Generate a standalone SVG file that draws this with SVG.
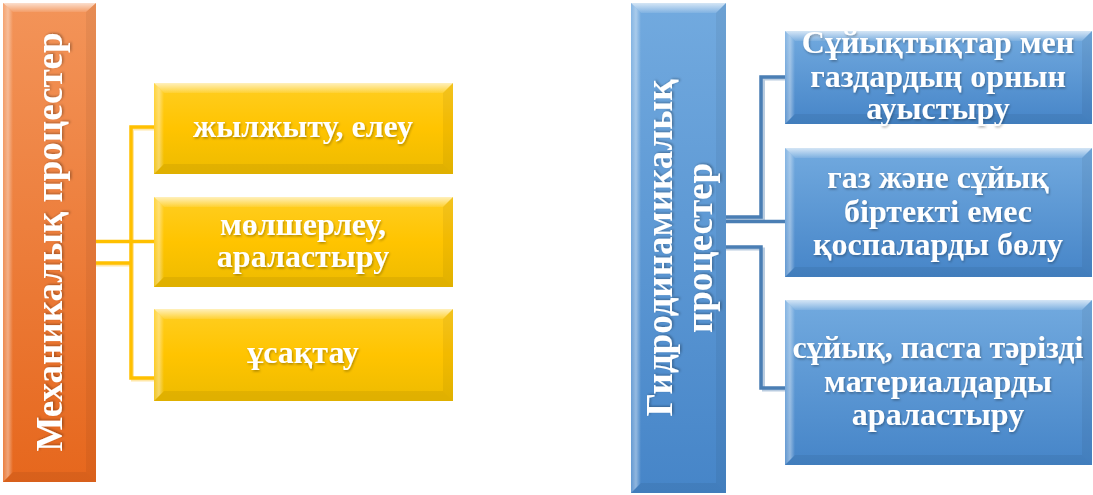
<svg xmlns="http://www.w3.org/2000/svg" width="1093" height="495" viewBox="0 0 1093 495">
<defs>
<linearGradient id="gOrange" x1="0" y1="0" x2="0" y2="1"><stop offset="0" stop-color="#F39459"/><stop offset="1" stop-color="#E6671D"/></linearGradient>
<linearGradient id="gYellow" x1="0" y1="0" x2="0" y2="1"><stop offset="0" stop-color="#FFCE22"/><stop offset="0.5" stop-color="#FFC400"/><stop offset="1" stop-color="#EDBB00"/></linearGradient>
<linearGradient id="gBlue" x1="0" y1="0" x2="0" y2="1"><stop offset="0" stop-color="#72AADF"/><stop offset="1" stop-color="#4685C8"/></linearGradient>
<linearGradient id="bTop" x1="0" y1="0" x2="0" y2="1"><stop offset="0" stop-color="#fff" stop-opacity="0.7"/><stop offset="1" stop-color="#fff" stop-opacity="0.1"/></linearGradient>
<linearGradient id="bLeft" x1="0" y1="0" x2="1" y2="0"><stop offset="0" stop-color="#fff" stop-opacity="0.15"/><stop offset="0.5" stop-color="#fff" stop-opacity="0.4"/><stop offset="1" stop-color="#fff" stop-opacity="0"/></linearGradient>
<filter id="ts" x="-10%" y="-10%" width="120%" height="130%"><feDropShadow dx="1" dy="1.5" stdDeviation="1" flood-color="#000" flood-opacity="0.3"/></filter>
</defs>
<style>
text{font-family:"Liberation Serif","Times New Roman",serif;font-weight:bold;fill:#fff;text-anchor:middle;}
.t{filter:url(#ts);}
.top{fill:url(#bTop);}
.left{fill:url(#bLeft);}
.right{fill:#000;fill-opacity:0.05;}
.bot{fill:#000;fill-opacity:0.06;}
.cy{fill:none;stroke:#FFC000;stroke-width:3.5;}
.cys{fill:none;stroke:#FFE7A8;stroke-width:3;}
.cb{fill:none;stroke:#4A7EB4;stroke-width:3.5;}
.cbs{fill:none;stroke:#B9CCE0;stroke-width:3;}
</style>

<g id="connectors">
<path class="cys" d="M154,129 H132.5 V380 H154 M96,265 H130"/>
<path class="cy" d="M154,127 H131 V378 H154 M96,241.5 H154 M96,263 H131"/>
<path class="cbs" d="M726,219 H763.5 V79 H785 M726,249 H763.5 V390 H785"/>
<path class="cb" d="M726,217 H761 V77 H785 M726,221.5 H785 M726,247 H761 V388 H785"/>
</g>

<g id="mech">
<rect x="3" y="3" width="93" height="479" fill="url(#gOrange)"/>
<polygon class="top" points="3,3 96,3 86,12 13,12"/>
<polygon class="left" points="3,3 13,12 13,472 3,482"/>
<polygon class="right" points="96,3 96,482 86,472 86,12"/>
<polygon class="bot" points="3,482 96,482 86,472 13,472"/>
<text class="t" transform="translate(62,242) rotate(-90)" font-size="37">Механикалық процестер</text>
</g>

<g id="y1">
<rect x="154" y="83" width="299" height="91" fill="url(#gYellow)"/>
<polygon class="top" points="154,83 453,83 443,93 164,93"/>
<polygon class="left" points="154,83 164,93 164,164 154,174"/>
<polygon class="right" points="453,83 453,174 443,164 443,93"/>
<polygon class="bot" points="154,174 453,174 443,164 164,164"/>
<text class="t" x="303" y="137" font-size="32">жылжыту, елеу</text>
</g>

<g id="y2">
<rect x="154" y="197" width="299" height="90" fill="url(#gYellow)"/>
<polygon class="top" points="154,197 453,197 443,207 164,207"/>
<polygon class="left" points="154,197 164,207 164,277 154,287"/>
<polygon class="right" points="453,197 453,287 443,277 443,207"/>
<polygon class="bot" points="154,287 453,287 443,277 164,277"/>
<text class="t" x="303" y="235" font-size="32">мөлшерлеу,</text>
<text class="t" x="303" y="267" font-size="32">араластыру</text>
</g>

<g id="y3">
<rect x="154" y="309" width="299" height="92" fill="url(#gYellow)"/>
<polygon class="top" points="154,309 453,309 443,319 164,319"/>
<polygon class="left" points="154,309 164,319 164,391 154,401"/>
<polygon class="right" points="453,309 453,401 443,391 443,319"/>
<polygon class="bot" points="154,401 453,401 443,391 164,391"/>
<text class="t" x="303" y="363" font-size="32">ұсақтау</text>
</g>

<g id="hydro">
<rect x="631" y="3" width="95" height="490" fill="url(#gBlue)"/>
<polygon class="top" points="631,3 726,3 716,13 641,13"/>
<polygon class="left" points="631,3 641,13 641,483 631,493"/>
<polygon class="right" points="726,3 726,493 716,483 716,13"/>
<polygon class="bot" points="631,493 726,493 716,483 641,483"/>
<g transform="translate(678,248) rotate(-90)">
<text class="t" x="0" y="-6" font-size="37">Гидродинамикалық</text>
<text class="t" x="0" y="34" font-size="37">процестер</text>
</g>
</g>

<g id="b1">
<rect x="785" y="31" width="307" height="93" fill="url(#gBlue)"/>
<polygon class="top" points="785,31 1092,31 1082,41 795,41"/>
<polygon class="left" points="785,31 795,41 795,114 785,124"/>
<polygon class="right" points="1092,31 1092,124 1082,114 1082,41"/>
<polygon class="bot" points="785,124 1092,124 1082,114 795,114"/>
<text class="t" x="938" y="53" font-size="32">Сұйықтықтар мен</text>
<text class="t" x="938" y="87" font-size="32">газдардың орнын</text>
<text class="t" x="938" y="119" font-size="32">ауыстыру</text>
</g>

<g id="b2">
<rect x="785" y="148" width="307" height="129" fill="url(#gBlue)"/>
<polygon class="top" points="785,148 1092,148 1082,158 795,158"/>
<polygon class="left" points="785,148 795,158 795,267 785,277"/>
<polygon class="right" points="1092,148 1092,277 1082,267 1082,158"/>
<polygon class="bot" points="785,277 1092,277 1082,267 795,267"/>
<text class="t" x="938" y="188" font-size="32">газ және сұйық</text>
<text class="t" x="938" y="222" font-size="32">біртекті емес</text>
<text class="t" x="938" y="255" font-size="32">қоспаларды бөлу</text>
</g>

<g id="b3">
<rect x="785" y="300" width="307" height="165" fill="url(#gBlue)"/>
<polygon class="top" points="785,300 1092,300 1082,310 795,310"/>
<polygon class="left" points="785,300 795,310 795,455 785,465"/>
<polygon class="right" points="1092,300 1092,465 1082,455 1082,310"/>
<polygon class="bot" points="785,465 1092,465 1082,455 795,455"/>
<text class="t" x="938" y="358" font-size="32">сұйық, паста тәрізді</text>
<text class="t" x="938" y="392" font-size="32">материалдарды</text>
<text class="t" x="938" y="425" font-size="32">араластыру</text>
</g>
</svg>
